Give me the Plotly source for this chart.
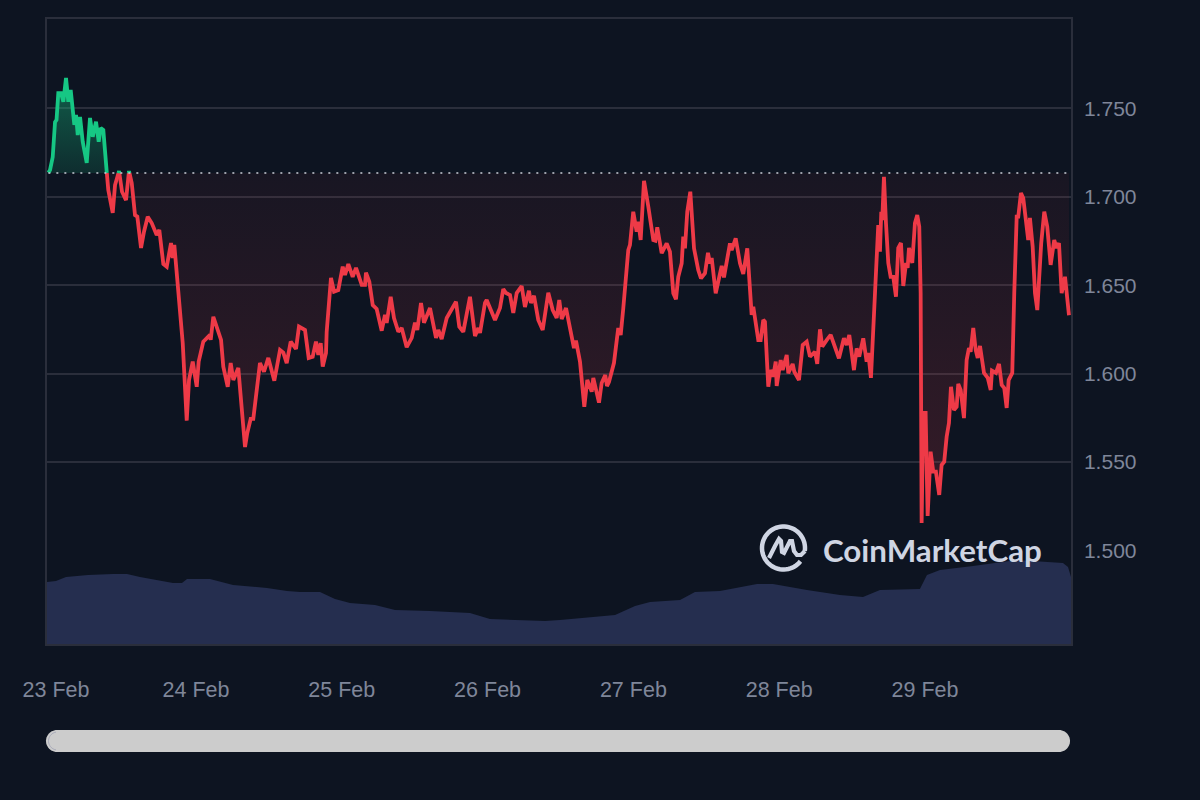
import numpy as np
import plotly.graph_objects as go

BASE_PRICE = 1.7135
hours = [-0.31,-0.03,0.41,0.79,1.04,1.33,1.78,2.16,2.60,2.98,3.37,3.80,3.97,4.25,4.53,4.91,5.35,6.01,6.55,7.00,7.54,7.98,8.31,8.74,9.30,
9.56,10.29,10.67,11.33,11.82,12.48,12.97,13.42,13.96,14.34,14.95,15.44,16.05,16.71,17.53,17.96,18.62,19.18,19.89,20.16,20.43,21.25,21.81,22.47,22.85,23.46,24.12,24.44,25.2,26.31,26.42,26.85,27.67,28.12,28.49,29.22,29.71,30.14,30.96,31.52,32.07,32.44,33.0,33.43,34.53,35.19,35.90,36.89,37.83,38.37,38.93,39.59,40.46,40.95,41.94,42.55,43.21,43.75,44.13,44.53,44.86,45.40,45.51,
46.22,46.72,47.42,48.15,48.53,49.07,49.79,50.34,51.28,51.82,51.98,52.53,53.09,53.74,54.57,55.11,55.39,56.05,56.59,57.30,57.86,58.68,59.51,60.05,60.43,61.04,61.53,62.52,63.51,63.89,64.44,65.27,66.80,67.34,68.0,69.10,69.93,70.47,70.75,71.57,71.85,73.22,74.04,74.58,75.03,75.69,76.23,76.79,77.61,78.15,78.81,79.14,79.64,80.34,81.07,81.99,82.72,83.37,83.80,84.2,84.91,85.56,86.22,86.55,87.21,87.92,88.41,89.14,89.40,90.34,90.78,91.37,91.65,91.98,92.80,93.51,93.91,94.34,95.16,
95.44,95.98,96.54,96.81,97.2,97.75,98.46,99.28,99.61,99.93,100.66,101.48,102.02,102.57,103.01,103.39,103.95,104.21,104.49,104.87,105.37,105.98,106.68,107.13,107.79,108.28,108.61,108.89,109.55,109.98,110.54,110.91,111.90,112.18,112.84,113.55,114.09,114.75,115.03,115.47,115.74,116.56,116.95,117.38,117.66,118.21,118.60,119.03,119.43,119.59,120.25,120.58,121.24,121.5,122.22,122.49,123.26,123.87,124.53,125.07,125.89,126.27,126.72,127.09,127.82,128.48,129.84,130.66,131.11,131.54,132.31,132.76,133.18,133.84,134.40,134.67,
135.11,135.49,135.93,136.31,136.59,136.81,136.97,137.25,137.58,137.96,138.35,138.78,139.23,139.60,140.05,140.43,140.88,141.15,141.37,141.91,142.35,142.73,143.06,143.29,143.45,143.72,144.11,144.44,144.93,145.36,145.8,146.35,146.74,147.17,147.57,147.95,148.28,148.77,149.22,149.48,149.88,150.42,150.86,151.24,151.52,151.95,152.35,152.68,153.06,153.72,154.33,154.82,155.03,155.69,156.19,156.63,157.05,157.45,157.78,158.37,158.70,159.1,159.36,159.8,160.18,161.0,161.28,161.73,162.11,162.49,163.14,163.64,164.13,164.69,165.28,165.68,166.06,166.5,167.05,167.33,167.71]
prices = [1.7137,1.7152,1.7225,1.7423,1.7435,1.7587,1.7587,1.7538,1.7672,1.7538,1.7604,1.7482,1.7407,1.7463,1.735,1.7452,1.7312,1.7192,1.7446,1.734,1.7425,1.7312,1.739,1.7378,1.7142,
1.7039,1.6909,1.7067,1.7146,1.7029,1.6982,1.7146,1.7078,1.6897,1.6888,1.6711,1.6803,1.6888,1.6852,1.6784,1.6813,1.662,1.6605,1.6739,1.6654,1.6728,1.636,1.6174,1.5734,1.5964,1.6068,1.5926,1.6068,1.6181,1.6219,1.6191,1.6322,1.6247,1.6191,1.604,1.5926,1.606,1.5964,1.6032,1.5834,1.5585,1.5664,1.5744,1.5744,1.606,1.6011,1.6089,1.596,1.6134,1.6119,1.606,1.6181,1.614,1.6266,1.6247,1.6089,1.6096,1.6181,1.6106,1.6173,1.604,1.6117,1.6237,
1.6541,1.6464,1.6473,1.6605,1.6558,1.662,1.6548,1.6598,1.6502,1.6502,1.6571,1.652,1.6388,1.6366,1.6243,1.6332,1.6287,1.6435,1.6315,1.6237,1.6258,1.615,1.6202,1.6288,1.6247,1.64,1.6288,1.6371,1.6202,1.6247,1.6196,1.6315,1.6407,1.6266,1.6237,1.6435,1.6213,1.6258,1.623,1.64,1.6417,1.6304,1.6371,1.6479,1.6456,1.6445,1.6343,1.6456,1.6496,1.6377,1.6469,1.64,1.644,1.6304,1.6247,1.6458,1.636,1.6315,1.6417,1.6309,1.6371,1.6247,1.6145,1.6187,1.6068,1.5813,1.5964,1.5898,1.5976,1.5836,1.5947,1.5992,1.593,1.5953,1.606,1.6258,1.6219,1.6371,1.6699,
1.6728,1.6916,1.6803,1.686,1.6756,1.7091,1.6944,1.6756,1.6752,1.6828,1.6681,1.6737,1.669,1.6455,1.6421,1.6548,1.6624,1.6775,1.6709,1.6916,1.7029,1.6709,1.6586,1.6539,1.6568,1.6684,1.6624,1.6654,1.6455,1.6530,1.6609,1.6545,1.6737,1.6699,1.6766,1.6624,1.6564,1.6709,1.6548,1.6332,1.6379,1.619,1.619,1.6304,1.6294,1.5926,1.6021,1.5983,1.6068,1.593,1.6077,1.6021,1.6106,1.6002,1.6055,1.6011,1.5964,1.6162,1.6181,1.6096,1.6124,1.6055,1.6251,1.6153,1.619,1.6219,1.6087,1.6200,1.6162,1.6219,1.602,1.6143,1.6096,1.62,1.6068,1.6117,
1.5976,1.623,1.6492,1.6841,1.669,1.6916,1.6869,1.7114,1.6852,1.6626,1.6548,1.6548,1.6435,1.6711,1.6739,1.6496,1.6626,1.6598,1.6711,1.6626,1.6852,1.6897,1.6831,1.6456,1.5155,1.5778,1.5778,1.5195,1.5559,1.5446,1.5446,1.5314,1.5483,1.5502,1.5643,1.5721,1.5926,1.5795,1.5813,1.5942,1.5908,1.5749,1.6077,1.6145,1.6124,1.6258,1.6134,1.6089,1.6157,1.6004,1.5976,1.5908,1.6017,1.6004,1.6055,1.5936,1.5919,1.5806,1.5964,1.6004,1.6456,1.6888,1.6888,1.7022,1.6994,1.6756,1.6881,1.6718,1.6456,1.636,1.6739,1.6916,1.6831,1.6615,1.6756,1.6711,1.6739,1.6456,1.6548,1.6456,1.633]
volume_hours = [-0.53,0.95,2.6,6.22,10.34,12.64,14.78,18.07,20.21,21.69,22.52,26.3,30.09,35.69,38.98,41.12,44.41,46.88,49.35,53.47,56.76,62.52,69.1,72.39,75.69,81.45,83.92,88.86,92.98,96.27,98.74,103.68,106.14,110.26,113.55,116.35,118.98,124.58,130.01,133.8,136.59,143.17,144.33,146.47,151.9,159.15,166.72,167.55,168.04]
volumes = [62,63,67,69,70,70,67,63,61,61,65,65,59,56,53,52,52,45,41,39,34,33,31,25,24,23,24,27,29,38,42,44,52,53,57,60,60,54,49,47,54,55,69,74,78,84,81,77,67]
day_ticks = [0.95,24,48,72,96,120,144]
day_labels = ["23 Feb","24 Feb","25 Feb","26 Feb","27 Feb","28 Feb","29 Feb"]
price_ticks = [1.50,1.55,1.60,1.65,1.70,1.75]

BG = "#0D1421"; GRID = "#2A2E3B"; TXT = "#7F8699"
RED = "#EE3A47"; GREEN = "#16C784"; VOL = "#252E4F"; LOGO = "#CFD5E3"
FONT = "Liberation Sans"

# split the line where it crosses the reference price
xs, ys = [hours[0]], [prices[0]]
for i in range(1, len(hours)):
    a, b = prices[i-1] - BASE_PRICE, prices[i] - BASE_PRICE
    if a * b < 0:
        t = a / (a - b)
        xs.append(hours[i-1] + t * (hours[i] - hours[i-1]))
        ys.append(BASE_PRICE)
    xs.append(hours[i]); ys.append(prices[i])
xs = np.array(xs); ys = np.array(ys)
base = np.full_like(ys, BASE_PRICE)

fig = go.Figure()
invisible = dict(mode="lines", line=dict(width=0), hoverinfo="skip", showlegend=False)
fig.add_trace(go.Scatter(x=xs, y=base, **invisible))
fig.add_trace(go.Scatter(x=xs, y=np.minimum(ys, base), fill="tonexty",
    fillgradient=dict(type="vertical", start=BASE_PRICE, stop=1.5155,
        colorscale=[[0, "rgba(234,57,67,0.05)"], [1, "rgba(234,57,67,0.19)"]]), **invisible))
fig.add_trace(go.Scatter(x=xs, y=base, **invisible))
fig.add_trace(go.Scatter(x=xs, y=np.maximum(ys, base), fill="tonexty",
    fillgradient=dict(type="vertical", start=BASE_PRICE, stop=1.7672,
        colorscale=[[0, "rgba(22,199,132,0.14)"], [1, "rgba(22,199,132,0.42)"]]), **invisible))
fig.add_trace(go.Scatter(x=volume_hours, y=volumes, yaxis="y2", fill="tozeroy", fillcolor=VOL, **invisible))
fig.add_trace(go.Scatter(x=xs, y=np.where(ys <= BASE_PRICE, ys, np.nan), mode="lines", showlegend=False,
    line=dict(color=RED, width=3.8)))
fig.add_trace(go.Scatter(x=xs, y=np.where(ys >= BASE_PRICE, ys, np.nan), mode="lines", showlegend=False,
    line=dict(color=GREEN, width=3.8)))
fig.add_trace(go.Scatter(x=[hours[0], 168.04], y=[BASE_PRICE, BASE_PRICE], mode="lines", showlegend=False,
    line=dict(color="#C9CDD6", width=1.5, dash="2px,6px")))

L, R, T, B = 47, 1071, 19, 644
def pp(x, y):
    return (x - L) / (R - L), (B - y) / (B - T)
def path(points, close=False):
    s = "M" + " L".join(f"{pp(x,y)[0]:.5f},{pp(x,y)[1]:.5f}" for x, y in points)
    return s + (" Z" if close else "")
def arc(cx, cy, r, a0, a1, n=60):
    return [(cx + r*np.cos(np.radians(a)), cy + r*np.sin(np.radians(a))) for a in np.linspace(a0, a1, n)]

shapes = []
# scrollbar
sb = arc(57, 741, 11, 90, 270, 24) + arc(1059, 741, 11, 270, 450, 24)
shapes.append(dict(type="path", xref="paper", yref="paper", path=path(sb, True), fillcolor="#CCCCCC", line=dict(width=0)))
shapes.append(dict(type="path", xref="paper", yref="paper", path=path(arc(57.5, 741, 9, 100, 260, 20)),
                   line=dict(color="#A6A8B8", width=1)))
# logo mark
shapes.append(dict(type="path", xref="paper", yref="paper", path=path(arc(783.5, 548, 21.5, 38, 368)),
                   line=dict(color=LOGO, width=4.5)))
shapes.append(dict(type="path", xref="paper", yref="paper",
    path=path([(769,558),(775,546),(779,539),(781,541),(782,552),(784,553),(790,541),(792,541),(794,551),(797,555),(801,555),(805,551)]),
    line=dict(color=LOGO, width=4.2)))

fig.update_layout(
    width=1200, height=800, paper_bgcolor=BG, plot_bgcolor=BG, showlegend=False,
    margin=dict(l=L, r=1200-R, t=T, b=800-B, autoexpand=False),
    font=dict(family=FONT, color=TXT, size=18), shapes=shapes,
    xaxis=dict(range=[-0.53, 168.04], tickmode="array", tickvals=day_ticks, ticktext=day_labels,
               showgrid=False, zeroline=False, showline=True, linecolor=GRID, linewidth=1.5, mirror=True,
               ticks="outside", ticklen=25, tickcolor="rgba(0,0,0,0)", tickfont=dict(size=21.5, color=TXT)),
    yaxis=dict(range=[1.4471, 1.8006], side="right", tickmode="array", tickvals=price_ticks,
               ticktext=[f"{v:.3f}" for v in price_ticks], gridcolor=GRID, gridwidth=1.6, zeroline=False,
               showline=True, linecolor=GRID, linewidth=1.5, mirror=True,
               ticks="outside", ticklen=7, tickcolor="rgba(0,0,0,0)", tickfont=dict(size=21, color=TXT)),
    yaxis2=dict(domain=[0, 100/625], range=[0, 100], visible=False, fixedrange=True),
    annotations=[dict(text="CoinMarketCap", xref="paper", yref="paper", x=pp(821,0)[0], y=pp(0,550)[1],
                      xanchor="left", yanchor="middle", showarrow=False,
                      font=dict(family="Lato", size=31.3, color=LOGO, weight=700))],
)
fig.write_html("out.html", config=dict(displayModeBar=False),
               post_script="document.body.style.margin='0';document.body.style.background='#0D1421';")
